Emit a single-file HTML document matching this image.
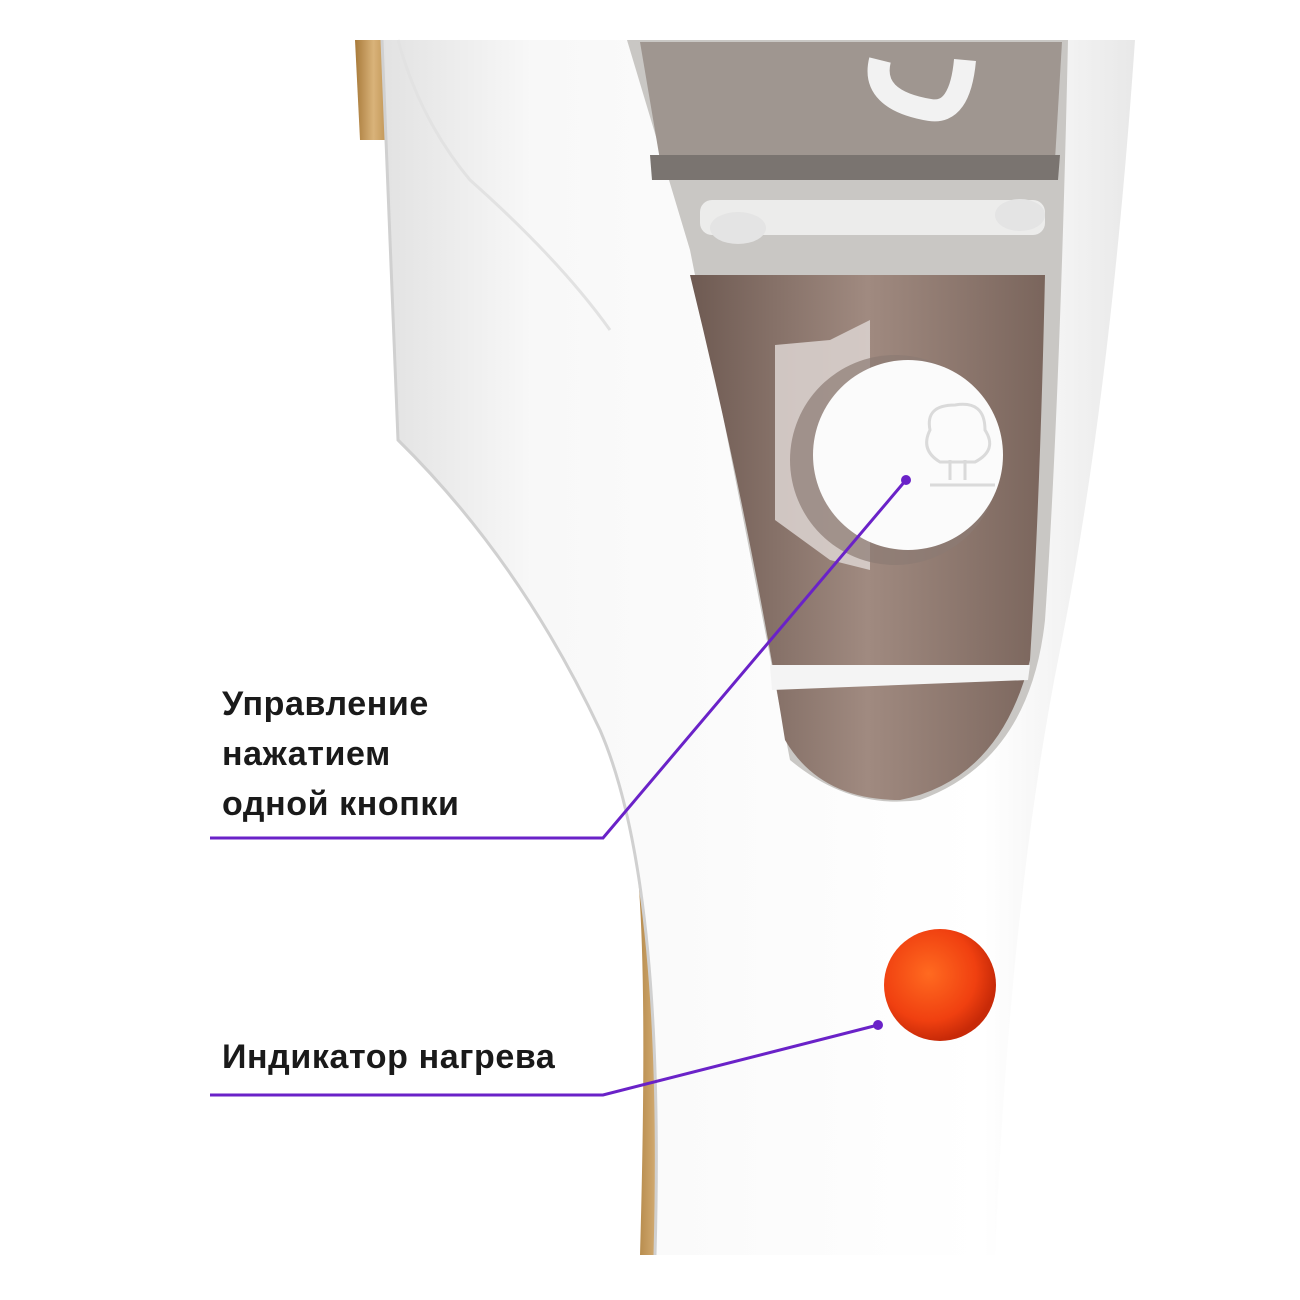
<!DOCTYPE html>
<html><head><meta charset="utf-8"><style>
html,body{margin:0;padding:0;background:#fff;}
.t{position:absolute;left:222px;font-family:"Liberation Sans",sans-serif;font-weight:bold;font-size:34px;color:#1a1a1a;letter-spacing:0.6px;line-height:40px}
</style></head><body>
<div style="position:relative;width:1300px;height:1300px;overflow:hidden">
<svg width="1300" height="1300" style="position:absolute;left:0;top:0">
<defs>
<linearGradient id="body" x1="0" x2="1" y1="0" y2="0">
<stop offset="0" stop-color="#e2e2e2"/><stop offset="0.2" stop-color="#f8f8f8"/><stop offset="0.8" stop-color="#ffffff"/><stop offset="1" stop-color="#e8e8e8"/></linearGradient>
<linearGradient id="brown" x1="0" x2="1"><stop offset="0" stop-color="#6e5a52"/><stop offset="0.5" stop-color="#a08a80"/><stop offset="1" stop-color="#7a655c"/></linearGradient>
<linearGradient id="gold" x1="0" x2="1"><stop offset="0" stop-color="#a87a3a"/><stop offset="0.5" stop-color="#d9b37a"/><stop offset="1" stop-color="#b88a48"/></linearGradient>
<radialGradient id="red" cx="0.4" cy="0.4" r="0.6"><stop offset="0" stop-color="#ff6a20"/><stop offset="0.7" stop-color="#f04010"/><stop offset="1" stop-color="#c82a08"/></radialGradient>
</defs>
<path d="M355 40 L390 40 L392 140 L360 140 Z" fill="url(#gold)"/>
<path d="M630 820 Q650 900 640 1255 L690 1255 Q695 900 660 800 Z" fill="url(#gold)"/>
<path d="M382 40 L1135 40 Q1110 400 1060 650 Q1010 900 995 1255 L655 1255 Q665 880 600 730 Q520 560 398 440 Z" fill="url(#body)"/>
<path d="M382 40 L398 440 Q520 560 600 730 Q665 880 655 1255" fill="none" stroke="#d0d0d0" stroke-width="3"/>
<path d="M398 40 Q420 120 470 180 Q560 260 610 330" fill="none" stroke="#e2e2e2" stroke-width="3"/>
<path d="M627 40 L1068 40 Q1060 400 1045 620 Q1030 760 920 800 Q850 810 790 760 Q740 500 690 250 Z" fill="#c9c7c4"/>
<path d="M640 42 L1062 42 L1055 160 L660 160 Z" fill="#9f9690"/>
<path d="M650 155 L1060 155 L1058 180 L652 180 Z" fill="#7a7470"/>
<path d="M880 60 Q870 100 930 110 Q960 115 965 60" fill="none" stroke="#f2f2f2" stroke-width="22"/>
<path d="M690 275 L1045 275 Q1040 500 1030 660 Q1000 780 900 800 Q820 800 785 740 Q750 520 690 275 Z" fill="url(#brown)"/>
<path d="M770 665 L1030 665 L1028 680 L772 690 Z" fill="#f4f4f4"/>
<rect x="700" y="200" width="345" height="35" rx="12" fill="#f0f0f0" opacity="0.9"/>
<ellipse cx="738" cy="228" rx="28" ry="16" fill="#e4e4e4"/>
<ellipse cx="1020" cy="215" rx="25" ry="16" fill="#e4e4e4"/>
<path d="M775 345 L830 340 L870 320 L870 570 L830 560 L775 520 Z" fill="#d8cfcc" opacity="0.9"/>
<circle cx="895" cy="460" r="105" fill="#8c7a74" opacity="0.7"/>
<circle cx="908" cy="455" r="95" fill="#fbfbfb"/>
<path d="M930 485 L995 485 M950 480 L950 460 M965 480 L965 460 M940 462 Q920 450 930 430 Q925 405 955 405 Q985 400 985 430 Q998 450 975 462 Z" fill="none" stroke="#dadada" stroke-width="3"/>
<circle cx="940" cy="985" r="56" fill="url(#red)"/>
<g stroke="#6a22c8" stroke-width="3" fill="none">
<polyline points="210,838 603,838 906,480"/>
<polyline points="210,1095 603,1095 878,1025"/>
</g>
<circle cx="906" cy="480" r="5" fill="#6a22c8"/>
<circle cx="878" cy="1025" r="5" fill="#6a22c8"/>
</svg>
<div class="t" style="top:684px">Управление</div>
<div class="t" style="top:734px">нажатием</div>
<div class="t" style="top:784px">одной кнопки</div>
<div class="t" style="top:1037px">Индикатор нагрева</div>
</div>
</body></html>
